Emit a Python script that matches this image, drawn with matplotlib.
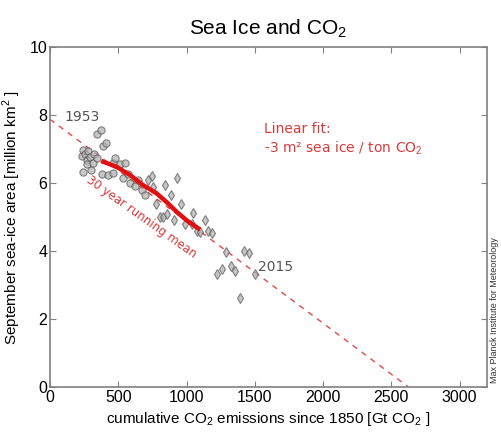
import numpy as np
import matplotlib.pyplot as plt

plt.rcParams['font.family'] = ['Liberation Sans', 'DejaVu Sans']
plt.rcParams['mathtext.fontset'] = 'custom'
plt.rcParams['mathtext.rm'] = 'Liberation Sans'

# cumulative CO2 emissions [Gt CO2] / september sea ice [million km2]
# 1953-1978 (circles)
co2_early = [232, 244, 256, 268, 273, 281, 293, 298, 244, 312, 322, 342, 342,
             371, 378, 390, 410, 427, 464, 464, 476, 512, 532, 549, 573, 586,
             622, 646, 671, 695]
ice_early = [6.79, 6.97, 6.85, 6.69, 6.56, 6.95, 6.77, 6.40, 6.33, 6.59, 6.87,
             6.75, 7.44, 7.56, 6.28, 7.09, 7.19, 6.24, 6.58, 6.30, 6.75, 6.56,
             6.16, 6.58, 6.28, 6.01, 5.91, 6.09, 5.79, 5.65]
# 1979-2015 (diamonds)
co2_late = [720, 744, 756, 776, 805, 825, 842, 859, 883, 908, 927, 957, 988,
            1037, 1049, 1078, 1102, 1135, 1159, 1184, 1225, 1257, 1288, 1323,
            1354, 1391, 1420, 1459, 1501]
ice_late = [6.09, 6.20, 5.89, 5.40, 5.00, 4.99, 5.94, 5.09, 5.65, 4.93, 6.14,
            5.40, 4.81, 4.79, 5.13, 4.60, 4.57, 4.91, 4.60, 4.54, 3.34, 3.46,
            3.98, 3.56, 3.42, 2.61, 4.01, 3.95, 3.32]

# 30 year running mean
run_co2 = [390, 488, 586, 683, 781, 866, 927, 1000, 1086]
run_ice = [6.63, 6.48, 6.24, 5.94, 5.70, 5.40, 5.16, 4.91, 4.67]

# linear fit: -3 m2 per ton CO2
fit_intercept = 7.88
fit_slope = -0.003

fig = plt.figure(figsize=(5.01, 4.33), dpi=100)
ax = fig.add_axes([0.0998, 0.106, 0.872, 0.785])

x_fit = np.linspace(0, -fit_intercept / fit_slope, 50)
ax.plot(x_fit, fit_intercept + fit_slope * x_fit, '--', color='#e0484a', lw=1.0,
        dashes=(4, 4), zorder=1)

ax.plot(co2_early, ice_early, 'o', ms=5.2, mfc='#b0b0b0', mec='#555555',
        mew=0.8, alpha=0.7, ls='none', zorder=2)
ax.plot(co2_late, ice_late, 'd', ms=5.0, mfc='#b0b0b0', mec='#555555',
        mew=0.8, alpha=0.7, ls='none', zorder=2)

ax.plot(run_co2, run_ice, '-', color='#e01010', lw=3.2, zorder=3)

ax.text(234, 7.95, '1953', color='#555555', fontsize=10, ha='center',
        va='center', family='DejaVu Sans')
ax.text(1520, 3.53, '2015', color='#555555', fontsize=10, ha='left',
        va='center', family='DejaVu Sans')
ax.text(671, 4.99, '30 year running mean', color='#d83a3a', fontsize=8.5,
        rotation=-35.5, ha='center', va='center', rotation_mode='anchor',
        family='DejaVu Sans')
ax.text(1567, 7.8, 'Linear fit:\n-3 m\u00b2 sea ice / ton CO$_2$',
        color='#d83a3a', fontsize=10, ha='left', va='top', linespacing=1.25,
        family='DejaVu Sans')

ax.set_xlim(0, 3200)
ax.set_ylim(0, 10)
ax.set_xticks([0, 500, 1000, 1500, 2000, 2500, 3000])
ax.set_yticks([0, 2, 4, 6, 8, 10])
ax.tick_params(direction='in', length=4, width=0.8, color='#808080',
               labelsize=11.5, top=True, right=True, pad=2)
for sp in ax.spines.values():
    sp.set_color('#808080')
    sp.set_linewidth(1.2)

ax.set_xlabel('cumulative CO$_2$ emissions since 1850 [Gt CO$_2$ ]',
              fontsize=11, labelpad=4)
ax.set_ylabel('September sea-ice area [million km$^2$ ]', fontsize=11,
              labelpad=5)
ax.set_title('Sea Ice and CO$_2$', fontsize=15, pad=9)

fig.text(0.988, 0.115, 'Max Planck Institute for Meteorology', rotation=90,
         fontsize=6.5, color='#333333', ha='center', va='bottom')

fig.savefig('out.png', dpi=100)
